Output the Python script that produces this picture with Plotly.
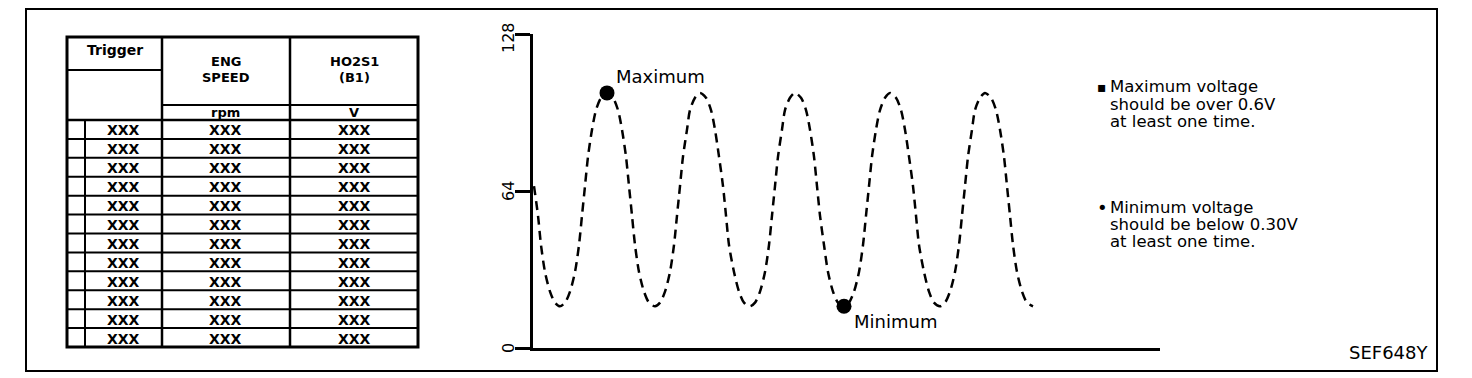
import plotly.graph_objects as go

W, H = 1472, 378

# ---------------- data ----------------
col_headers = [["Trigger"], ["ENG", "SPEED"], ["HO2S1", "(B1)"]]
col_units = ["", "rpm", "V"]
trigger_vals = ["XXX", "XXX", "XXX", "XXX", "XXX", "XXX", "XXX", "XXX", "XXX", "XXX", "XXX", "XXX"]
speed_vals = ["XXX", "XXX", "XXX", "XXX", "XXX", "XXX", "XXX", "XXX", "XXX", "XXX", "XXX", "XXX"]
ho2s1_vals = ["XXX", "XXX", "XXX", "XXX", "XXX", "XXX", "XXX", "XXX", "XXX", "XXX", "XXX", "XXX"]

t_vals = [1, 5, 8, 12, 17, 22, 27,
          32, 37, 42, 46, 49, 52, 55, 59, 63, 68, 74,
          80, 85, 89, 93, 96, 99, 102, 106, 111, 116, 122,
          127, 132, 137, 141, 144, 147, 150, 154, 157, 162, 167,
          173, 178, 182, 186, 190, 193, 196, 201, 206, 211, 217,
          222, 227, 232, 236, 239, 242, 245, 249, 252, 257, 262,
          268, 273, 277, 281, 284, 287, 291, 295, 300, 305, 311,
          316, 321, 326, 330, 333, 336, 339, 343, 347, 352, 357,
          363, 368, 372, 376, 380, 383, 386, 391, 396, 401, 407,
          412, 417, 422, 426, 429, 432, 435, 439, 442, 447, 452,
          458, 463, 467, 471, 474, 477, 480, 484, 489, 494, 500]
v_vals = [66, 54, 42, 31, 23, 18.5, 17,
          18.5, 23, 31, 42, 54, 66, 78, 89, 97, 102, 104,
          102, 97, 89, 78, 66, 54, 42, 31, 23, 18.5, 17,
          18.5, 23, 31, 42, 54, 66, 78, 89, 97, 102, 104,
          102, 97, 89, 78, 66, 54, 42, 31, 23, 18.5, 17,
          18.5, 23, 31, 42, 54, 66, 78, 89, 97, 102, 104,
          102, 97, 89, 78, 66, 54, 42, 31, 23, 18.5, 17,
          18.5, 23, 31, 42, 54, 66, 78, 89, 97, 102, 104,
          102, 97, 89, 78, 66, 54, 42, 31, 23, 18.5, 17,
          18.5, 23, 31, 42, 54, 66, 78, 89, 97, 102, 104,
          102, 97, 89, 78, 66, 54, 42, 31, 23, 18.5, 17]

max_point = [74, 104]
min_point = [311, 17]
y_ticks = [0, 64, 128]
y_tick_labels = ["0", "64", "128"]
notes_max = ["Maximum voltage", "should be over 0.6V", "at least one time."]
notes_min = ["Minimum voltage", "should be below 0.30V", "at least one time."]
fig_id = "SEF648Y"

# ---------------- helpers ----------------
def px(x):
    return x / W

def py(y):
    return 1 - y / H

shapes = []
annotations = []
FONT = "DejaVu Sans"

def line(x0, y0, x1, y1, w=2):
    shapes.append(dict(type="line", xref="paper", yref="paper",
                       x0=px(x0), y0=py(y0), x1=px(x1), y1=py(y1),
                       line=dict(color="black", width=w)))

def text(x, y, s, size=14, bold=False, xanchor="center", angle=0):
    annotations.append(dict(xref="paper", yref="paper", x=px(x), y=py(y),
                            text=("<b>%s</b>" % s) if bold else s,
                            showarrow=False, xanchor=xanchor, yanchor="middle",
                            textangle=angle, borderpad=0,
                            font=dict(family=FONT, size=size, color="black")))

# outer frame
shapes.append(dict(type="rect", xref="paper", yref="paper",
                   x0=px(26), y0=py(371), x1=px(1437), y1=py(9),
                   line=dict(color="black", width=2)))

# ---------------- table ----------------
TL, TR, TT, TB = 67, 418, 37, 347
C1, C2, CIN = 162, 290, 85
Y_TRIG, Y_UNIT, Y_DATA = 70, 105, 120
n_rows = len(trigger_vals)
row_h = (TB - Y_DATA) / n_rows

shapes.append(dict(type="rect", xref="paper", yref="paper",
                   x0=px(TL), y0=py(TB), x1=px(TR), y1=py(TT),
                   line=dict(color="black", width=3)))
line(C1, TT, C1, TB, 2.5)
line(C2, TT, C2, TB, 2.5)
line(TL, Y_TRIG, C1, Y_TRIG, 2)
line(C1, Y_UNIT, TR, Y_UNIT, 2)
line(TL, Y_DATA, TR, Y_DATA, 2.5)
line(CIN, Y_DATA, CIN, TB, 2)
for k in range(1, n_rows):
    yy = Y_DATA + k * row_h
    line(TL, yy, TR, yy, 2)

text((TL + C1) / 2, 50, col_headers[0][0], 14, True)
text((C1 + C2) / 2, 61, col_headers[1][0], 13, True)
text((C1 + C2) / 2, 77, col_headers[1][1], 13, True)
text((C2 + TR) / 2, 61, col_headers[2][0], 13, True)
text((C2 + TR) / 2, 77, col_headers[2][1], 13, True)
text((C1 + C2) / 2, 112, col_units[1], 13, True)
text((C2 + TR) / 2, 112, col_units[2], 13, True)
for k in range(n_rows):
    yc = Y_DATA + (k + 0.5) * row_h + 1
    text((CIN + C1) / 2, yc, trigger_vals[k], 14, True)
    text((C1 + C2) / 2, yc, speed_vals[k], 14, True)
    text((C2 + TR) / 2, yc, ho2s1_vals[k], 14, True)

# ---------------- chart ----------------
AX_L, AX_R, AX_T, AX_B = 533, 1160, 34, 348

fig = go.Figure()
fig.add_trace(go.Scatter(x=t_vals, y=v_vals, mode="lines", line_shape="spline",
                         line=dict(color="black", width=2.5, dash="9px,6px", smoothing=0.8),
                         hoverinfo="skip", showlegend=False))
fig.add_trace(go.Scatter(x=[max_point[0], min_point[0]], y=[max_point[1], min_point[1]],
                         mode="markers", marker=dict(color="black", size=15),
                         hoverinfo="skip", showlegend=False))

for v, lab in zip(y_ticks, y_tick_labels):
    yy = AX_B - (AX_B - AX_T) * v / 128
    text(508, yy + (3 if v == 128 else 0), lab, 16, False, "center", -90)

text(615, 76, "Maximum", 18, False, "left")
text(853, 321, "Minimum", 18, False, "left")

NX = 1109
for i, s in enumerate(notes_max):
    text(NX, 87 + 17 * i, s, 16.5, False, "left")
for i, s in enumerate(notes_min):
    text(NX, 207 + 17 * i, s, 16.5, False, "left")
text(1102, 87, "▪", 14, False, "center")
text(1102, 207, "•", 18, False, "center")

text(1389, 352, fig_id, 18, False, "center")

fig.update_layout(
    width=W, height=H, margin=dict(l=0, r=0, t=0, b=0),
    paper_bgcolor="white", plot_bgcolor="white",
    shapes=shapes, annotations=annotations,
    xaxis=dict(domain=[px(AX_L), px(AX_R)], range=[0, AX_R - AX_L],
               showline=True, linecolor="black", linewidth=2.5,
               showgrid=False, zeroline=False, showticklabels=False, ticks=""),
    yaxis=dict(domain=[py(AX_B), py(AX_T)], range=[0, 128],
               showline=True, linecolor="black", linewidth=2.5,
               ticks="outside", ticklen=15, tickwidth=2.5, tickcolor="black",
               tickvals=y_ticks, showticklabels=False,
               showgrid=False, zeroline=False),
    font=dict(family=FONT, color="black"),
)

fig.write_html("out.html")
